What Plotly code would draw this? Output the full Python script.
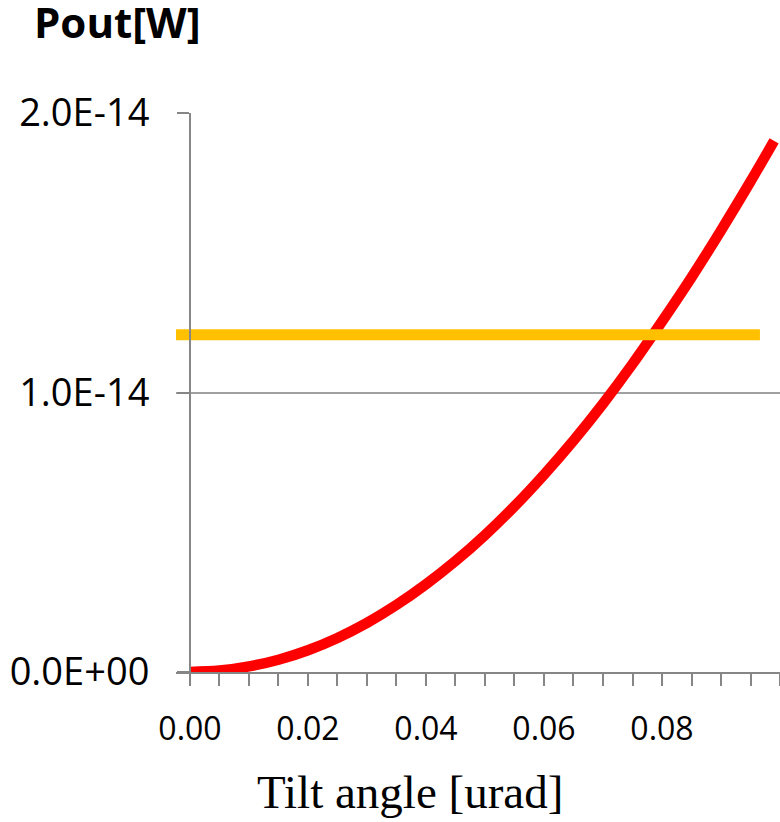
import plotly.graph_objects as go

# Data
tilt_angle = [0.000, 0.005, 0.010, 0.015, 0.020, 0.025, 0.030, 0.035, 0.040, 0.045,
              0.050, 0.055, 0.060, 0.065, 0.070, 0.075, 0.080, 0.085, 0.090, 0.095, 0.099]
pout = [0.000e-14, 0.005e-14, 0.020e-14, 0.044e-14, 0.078e-14, 0.122e-14, 0.176e-14,
        0.240e-14, 0.314e-14, 0.397e-14, 0.490e-14, 0.593e-14, 0.706e-14, 0.828e-14,
        0.960e-14, 1.102e-14, 1.254e-14, 1.412e-14, 1.580e-14, 1.755e-14, 1.900e-14]
threshold_x = [-0.00237, 0.0966]
threshold_y = [1.207e-14, 1.207e-14]

y_tickvals = [0, 1e-14, 2e-14]
y_ticktext = ["0.0E+00", "1.0E-14", "2.0E-14"]
x_tickvals = [0.00, 0.02, 0.04, 0.06, 0.08]
x_ticktext = ["0.00", "0.02", "0.04", "0.06", "0.08"]

x_range = [-0.00237, 0.1]
y_range = [0, 2e-14]

fig = go.Figure()
fig.add_trace(go.Scatter(x=tilt_angle, y=pout, mode="lines",
                         line=dict(color="#FF0000", width=10.5, shape="spline"),
                         showlegend=False, hoverinfo="skip"))
fig.add_trace(go.Scatter(x=threshold_x, y=threshold_y, mode="lines",
                         line=dict(color="#FFC000", width=11),
                         showlegend=False, hoverinfo="skip"))

fig.update_layout(
    width=780, height=822,
    margin=dict(l=176, r=0, t=113, b=150, pad=0),
    paper_bgcolor="white", plot_bgcolor="white",
    xaxis=dict(
        range=x_range, domain=[0, 1],
        tickvals=x_tickvals, ticktext=x_ticktext,
        ticks="outside", ticklen=12, tickwidth=2, tickcolor="#868686",
        minor=dict(dtick=0.005, tick0=0, ticks="outside", ticklen=12,
                   tickwidth=2, tickcolor="#868686", showgrid=False),
        showline=True, linecolor="#868686", linewidth=2,
        showgrid=False, zeroline=False,
        tickfont=dict(family="Open Sans", size=32, color="black"),
        ticklabelstandoff=16,
    ),
    yaxis=dict(
        range=y_range, anchor="free",
        position=(0 - x_range[0]) / (x_range[1] - x_range[0]),
        tickvals=y_tickvals, ticktext=y_ticktext,
        ticks="outside", ticklen=12, tickwidth=2, tickcolor="#868686",
        showline=True, linecolor="#868686", linewidth=2,
        showgrid=True, gridcolor="#A0A0A0", gridwidth=2,
        zeroline=False,
        tickfont=dict(family="Open Sans", size=38, color="black"),
        ticklabelstandoff=20,
    ),
    annotations=[
        dict(text="<b>Pout[W]</b>", xref="paper", yref="paper",
             x=-0.237, y=1.0, xanchor="left", yanchor="bottom", yshift=62,
             borderpad=0,
             showarrow=False, font=dict(family="Open Sans", size=42, color="black")),
        dict(text="Tilt angle [urad]", xref="paper", yref="paper",
             x=(410 - 176) / 604, y=0, xanchor="center", yanchor="top", yshift=-92,
             showarrow=False, font=dict(family="Liberation Serif", size=47, color="black")),
    ],
)

fig.write_html("out.html", config={"displayModeBar": False},
               post_script="document.body.style.margin='0';")
